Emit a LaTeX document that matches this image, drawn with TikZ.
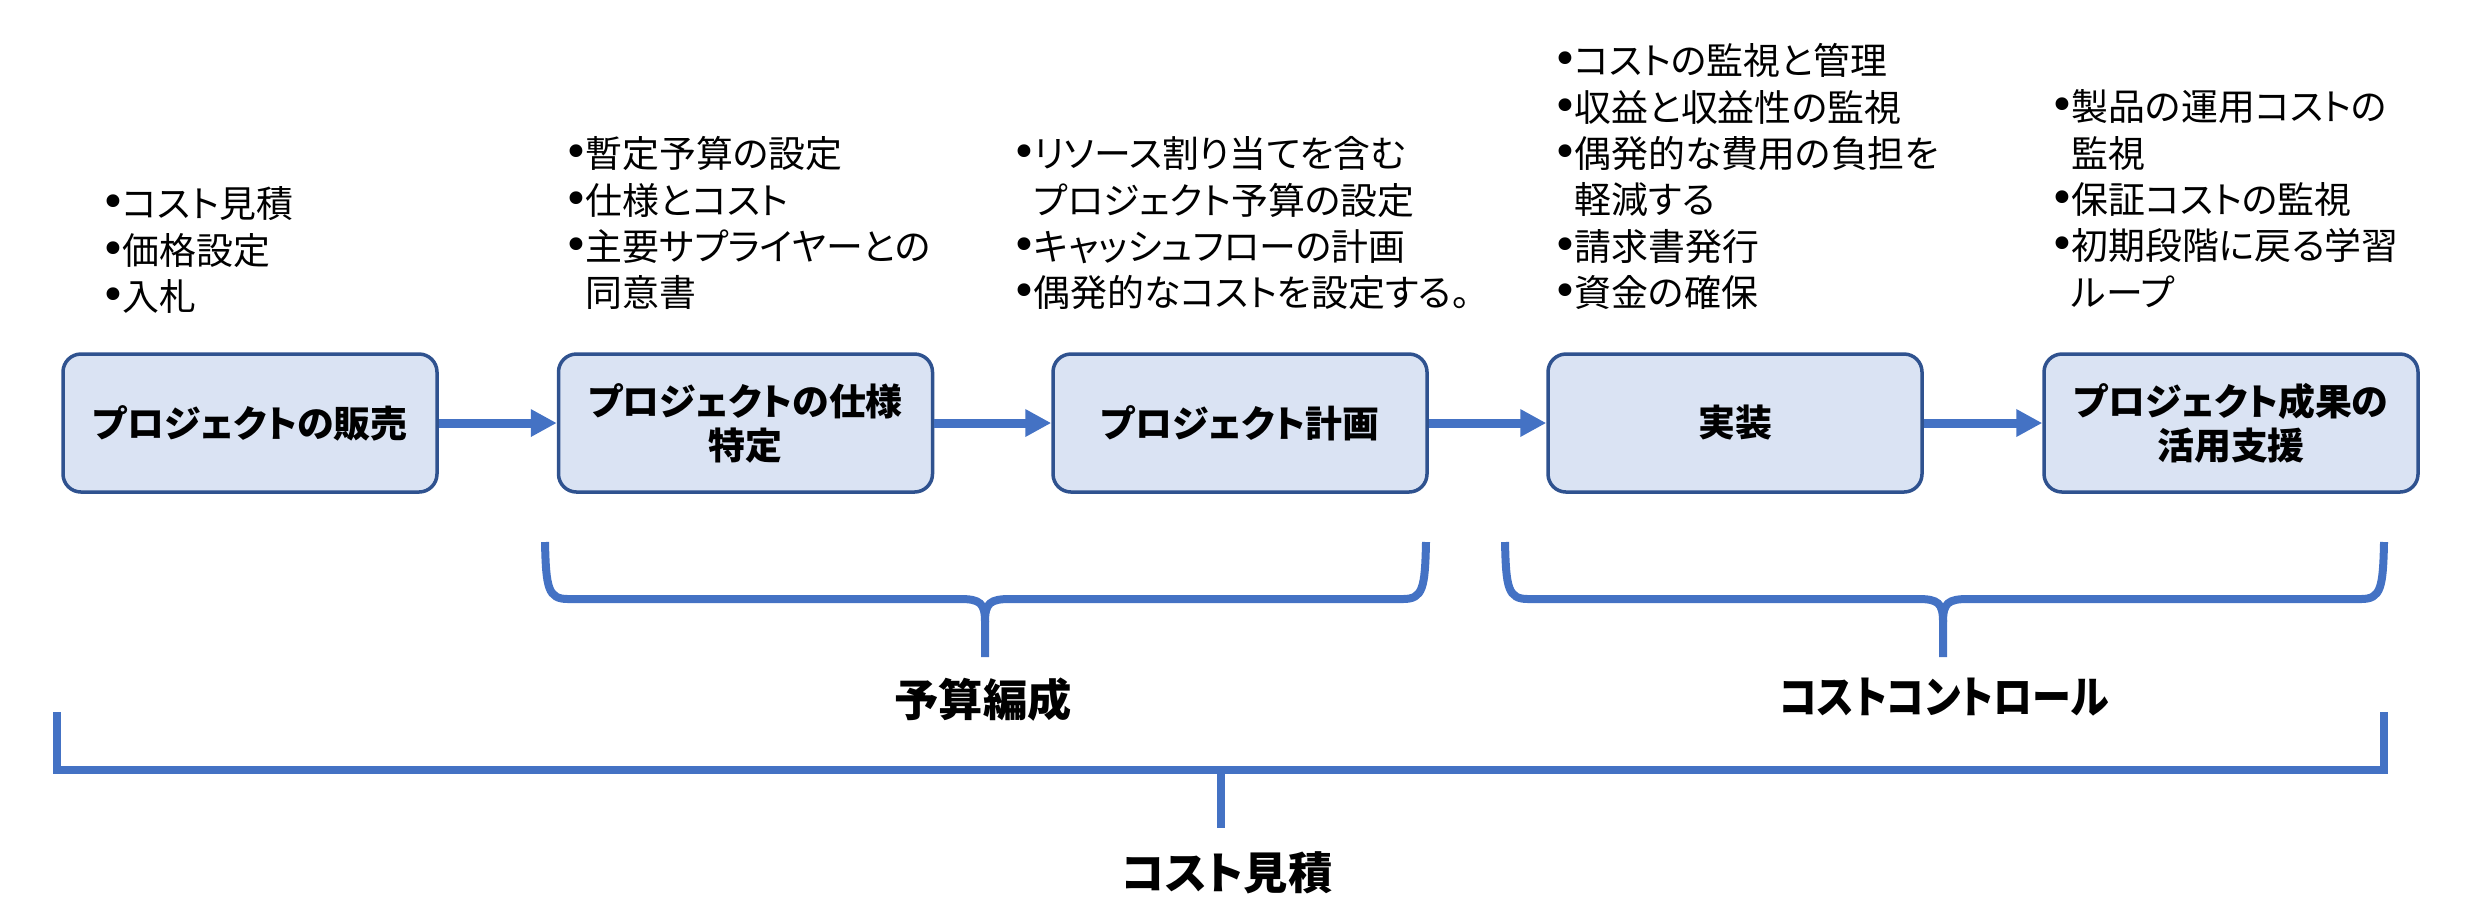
\documentclass[tikz,border=0pt]{standalone}
\usepackage{fontspec}
\setmainfont{Noto Sans CJK JP}[RawFeature={+palt}]
\newfontfamily\bulfont{DejaVu Sans}
\usetikzlibrary{arrows.meta}
\definecolor{accent}{HTML}{4472C4}
\definecolor{boxfill}{HTML}{DAE3F3}
\definecolor{boxline}{HTML}{2F528F}
\newcommand\bul{\makebox[1.9mm][l]{\hspace*{-0.3mm}\bulfont\fontsize{12.5pt}{12pt}\selectfont •}}
\newcommand\ind{\hspace*{1.9mm}}
\begin{document}
\begin{tikzpicture}[x=0.1mm,y=-0.1mm,
 stage/.style={draw=boxline,line width=0.35mm,fill=boxfill,rounded corners=1.8mm,minimum width=37.4mm,minimum height=13.8mm,align=center,font=\bfseries\fontsize{10.5pt}{12.5pt}\selectfont,inner sep=0},
 notes/.style={align=left,anchor=north west,inner sep=0,font=\fontsize{10.5pt}{13.2pt}\selectfont},
 flow/.style={draw=accent,line width=0.9mm,-{Triangle[length=2.6mm,width=2.6mm]}},
 brace/.style={draw=accent,line width=0.8mm},
 phase/.style={font=\bfseries\fontsize{12.6pt}{14pt}\selectfont,inner sep=0}]
\useasboundingbox (0,0) rectangle (2481,916);

% stages
\node[stage] (s1) at (250,423) {プロジェクトの販売};
\node[stage] (s2) at (745.5,423) {プロジェクトの仕様\\特定};
\node[stage] (s3) at (1240,423) {プロジェクト計画};
\node[stage] (s4) at (1735,423) {実装};
\node[stage] (s5) at (2231,423) {プロジェクト成果の\\活用支援};

\draw[flow] (s1) -- (s2);
\draw[flow] (s2) -- (s3);
\draw[flow] (s3) -- (s4);
\draw[flow] (s4) -- (s5);

% notes
\node[notes] (n1) at (103,184.5) {\strut\bul コスト見積\\\bul 価格設定\\\bul 入札};
\node[notes] (n2) at (566,134.5) {\strut\bul 暫定予算の設定\\\bul 仕様とコスト\\\bul 主要サプライヤーとの\\\ind 同意書};
\node[notes] (n3) at (1014,134.5) {\strut\bul リソース割り当てを含む\\\ind プロジェクト予算の設定\\\bul キャッシュフローの計画\\\bul 偶発的なコストを設定する。};
\node[notes] (n4) at (1555,41.5) {\strut\bul コストの監視と管理\\\bul 収益と収益性の監視\\\bul 偶発的な費用の負担を\\\ind 軽減する\\\bul 請求書発行\\\bul 資金の確保};
\node[notes] (n5) at (2052,87.5) {\strut\bul 製品の運用コストの\\\ind 監視\\\bul 保証コストの監視\\\bul 初期段階に戻る学習\\\ind ループ};

% budget brace
\coordinate (budTip) at (985,657);
\draw[brace] (545,542) .. controls (546,588) and (548,599) .. (568,599) -- (960,599) .. controls (980,599) and (985,603) .. (985,622) -- (budTip);
\draw[brace] (985,622) .. controls (985,603) and (990,599) .. (1010,599) -- (1403,599) .. controls (1423,599) and (1425,588) .. (1426,542);
\node[phase] (p1) at (983,700) {予算編成};

% cost control brace
\coordinate (ccTip) at (1943,657);
\draw[brace] (1505,542) .. controls (1506,588) and (1508,599) .. (1528,599) -- (1918,599) .. controls (1938,599) and (1943,603) .. (1943,622) -- (ccTip);
\draw[brace] (1943,622) .. controls (1943,603) and (1948,599) .. (1968,599) -- (2361,599) .. controls (2381,599) and (2383,588) .. (2384,542);
\node[phase] (p2) at (1944,697) {\scalebox{0.88}[1]{コストコントロール}};

% overall bracket
\coordinate (allTip) at (1221,828);
\draw[brace,line width=0.85mm] (57,712) -- (57,770) -- (2384,770) -- (2384,712);
\draw[brace,line width=0.85mm] (1221,770) -- (allTip);
\node[phase] (p3) at (1227,873) {コスト見積};
\end{tikzpicture}
\end{document}
